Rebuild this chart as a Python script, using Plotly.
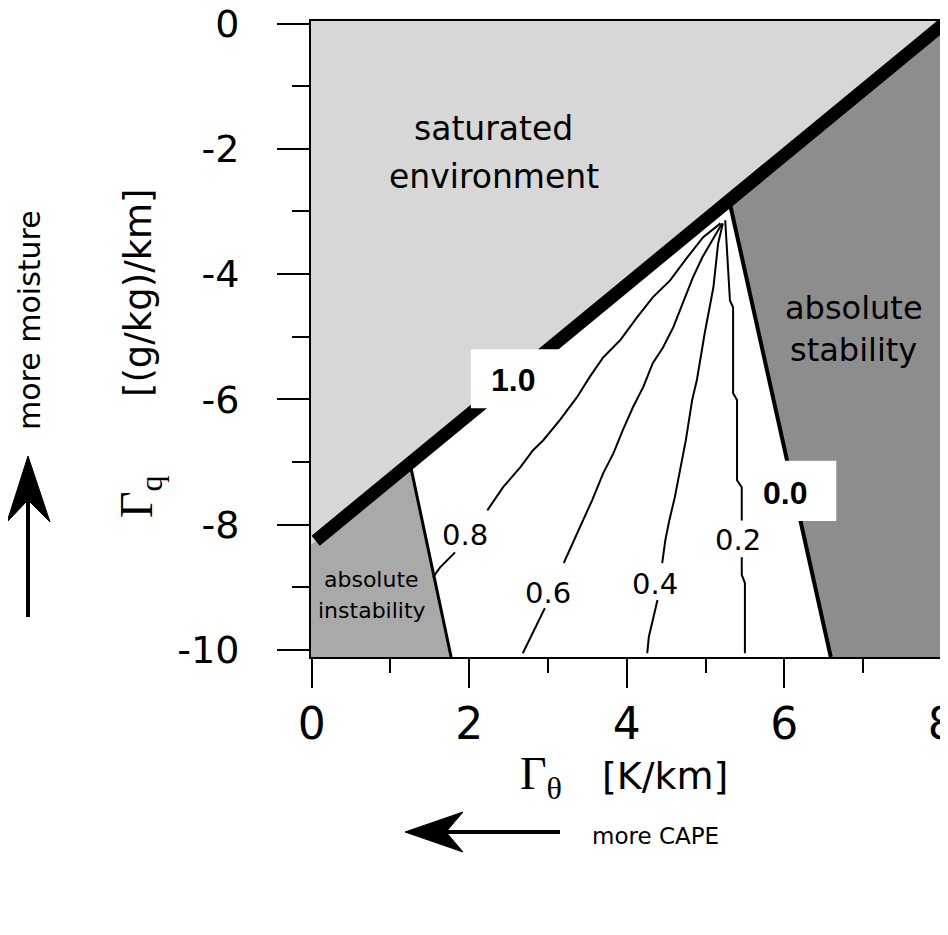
import plotly.graph_objects as go

# ---------------- data ----------------
X_TICKS = [0, 2, 4, 6, 8]
X_MINOR = [1, 3, 5, 7]
Y_TICKS = [-10, -8, -6, -4, -2, 0]
Y_TICKTEXT = ["-10", "-8", "-6", "-4", "-2", "0"]
Y_MINOR = [-9, -7, -5, -3, -1]

RANGE_X = [-0.009, 8.18]
RANGE_Y = [-10.11, 0.04]

# saturation line (thick black line, "1.0")
SAT_X = [-0.1, 0.05, 8.3]
SAT_Y = [-8.41, -8.255, 0.28]

# absolute stability boundary ("0.0")
STAB_X = [5.30, 6.59]
STAB_Y = [-2.82, -10.11]

# absolute instability boundary
INST_X = [1.255, 1.77]
INST_Y = [-7.06, -10.11]

# contour lines (None = gap for the label)
C02_X = [5.25, 5.31, 5.35, 5.35, 5.40, 5.40, 5.46, 5.46, None, 5.46, 5.46, 5.50, 5.50]
C02_Y = [-3.14, -4.42, -4.53, -5.90, -6.01, -7.29, -7.40, -7.93, None, -8.52, -8.80, -8.93, -10.05]

C04_X = [5.22, 5.16, 5.10, 4.99, 4.89, 4.83, 4.75, 4.68, 4.61, 4.54, 4.49, 4.45, None,
         4.39, 4.33, 4.28, 4.26]
C04_Y = [-3.19, -3.51, -4.21, -4.94, -5.69, -6.01, -6.65, -7.08, -7.56, -7.93, -8.24, -8.61, None,
         -9.20, -9.52, -9.79, -10.05]

C06_X = [5.21, 5.10, 4.96, 4.84, 4.72, 4.59, 4.46, 4.33, 4.21, 4.08, 3.95, 3.83, 3.70, 3.56,
         3.43, 3.32, 3.20, None, 2.96, 2.84, 2.68]
C06_Y = [-3.19, -3.43, -3.73, -4.05, -4.42, -4.85, -5.17, -5.42, -5.80, -6.12, -6.49, -6.86,
         -7.18, -7.61, -7.97, -8.29, -8.61, None, -9.33, -9.63, -10.05]

C08_X = [5.19, 4.97, 4.77, 4.55, 4.33, 4.13, 3.92, 3.70, 3.53, 3.37, 3.15, 2.94, 2.81, 2.65,
         2.43, 2.23, None, 1.82, 1.63, 1.54]
C08_Y = [-3.19, -3.41, -3.73, -4.10, -4.37, -4.69, -5.05, -5.33, -5.64, -5.96, -6.33, -6.65,
         -6.81, -7.08, -7.40, -7.77, None, -8.44, -8.68, -8.84]

CONTOUR_LABELS = ["0.8", "0.6", "0.4", "0.2"]
CONTOUR_LABEL_X = [1.95, 3.00, 4.36, 5.41]
CONTOUR_LABEL_Y = [-8.17, -9.09, -8.95, -8.24]

# ---------------- figure ----------------
W, H = 948, 935
OFF = 8                      # page body margin of the browser
ML, MR, MT, MB = 303, 0, 13, 286
PW, PH = W - ML - MR, H - MT - MB

def pxp(px):
    """page pixel x -> paper x"""
    return (px - OFF - ML) / PW

def pyp(py):
    """page pixel y -> paper y"""
    return (OFF + MT + PH - py) / PH

LIGHT = "#d7d7d7"
MID = "#a9a9a9"
DARK = "#8d8d8d"

fig = go.Figure()

x_lo, x_hi = SAT_X[0], SAT_X[-1]
# saturated environment (above the saturation line)
fig.add_trace(go.Scatter(
    x=[x_lo] + SAT_X + [x_hi],
    y=[1.0] + SAT_Y + [1.0],
    fill="toself", fillcolor=LIGHT, mode="lines", line=dict(width=0),
    hoverinfo="skip", showlegend=False))
# absolute stability
fig.add_trace(go.Scatter(
    x=STAB_X + [x_hi, x_hi],
    y=STAB_Y + [RANGE_Y[0] - 0.2, SAT_Y[-1]],
    fill="toself", fillcolor=DARK, mode="lines", line=dict(width=0),
    hoverinfo="skip", showlegend=False))
# absolute instability
fig.add_trace(go.Scatter(
    x=[x_lo] + INST_X + [x_lo],
    y=[SAT_Y[0]] + INST_Y + [RANGE_Y[0] - 0.2],
    fill="toself", fillcolor=MID, mode="lines", line=dict(width=0),
    hoverinfo="skip", showlegend=False))

for cx, cy in [(C02_X, C02_Y), (C04_X, C04_Y), (C06_X, C06_Y), (C08_X, C08_Y)]:
    fig.add_trace(go.Scatter(x=cx, y=cy, mode="lines", connectgaps=False,
                             line=dict(color="black", width=2),
                             hoverinfo="skip", showlegend=False))

fig.add_trace(go.Scatter(x=STAB_X, y=STAB_Y, mode="lines",
                         line=dict(color="black", width=4), hoverinfo="skip", showlegend=False))
fig.add_trace(go.Scatter(x=INST_X, y=INST_Y, mode="lines",
                         line=dict(color="black", width=3), hoverinfo="skip", showlegend=False))
fig.add_trace(go.Scatter(x=SAT_X[1:], y=SAT_Y[1:], mode="lines",
                         line=dict(color="black", width=13), hoverinfo="skip", showlegend=False))

# white label boxes
fig.add_shape(type="rect", xref="x", yref="y", x0=2.02, x1=3.20, y0=-6.14, y1=-5.20,
              fillcolor="white", line=dict(width=0), layer="above")
fig.add_shape(type="rect", xref="x", yref="y", x0=5.53, x1=6.66, y0=-7.94, y1=-6.98,
              fillcolor="white", line=dict(width=0), layer="above")

ann = []
def add_text(text, x, y, size, family="DejaVu Sans", xref="x", yref="y", angle=0, bold=False):
    ann.append(dict(text=text, x=x, y=y, xref=xref, yref=yref, showarrow=False,
                    textangle=angle, xanchor="center", yanchor="middle",
                    font=dict(family=family, size=size, color="black",
                              weight="bold" if bold else "normal")))

add_text("1.0", 2.56, -5.69, 32, family="Liberation Sans", bold=True)
add_text("0.0", 6.01, -7.49, 32, family="Liberation Sans", bold=True)

for t, x, y in zip(CONTOUR_LABELS, CONTOUR_LABEL_X, CONTOUR_LABEL_Y):
    add_text(t, x, y, 29)

add_text("saturated", 2.31, -1.67, 33)
add_text("environment", 2.31, -2.44, 33)
add_text("absolute", 6.88, -4.54, 32)
add_text("stability", 6.88, -5.21, 32)
add_text("absolute", 0.755, -8.88, 22)
add_text("instability", 0.77, -9.36, 22)

# axis titles
add_text("Γ<sub>θ</sub>", pxp(541), pyp(777), 46, family="Liberation Serif", xref="paper", yref="paper")
add_text("[K/km]", pxp(665), pyp(776), 38, xref="paper", yref="paper")
add_text("Γ<sub>q</sub>", pxp(140), pyp(497), 46, family="Liberation Serif",
         xref="paper", yref="paper", angle=-90)
add_text("[(g/kg)/km]", pxp(138), pyp(293), 37, xref="paper", yref="paper", angle=-90)

add_text("more moisture", pxp(30), pyp(320), 30, xref="paper", yref="paper", angle=-90)
add_text("more CAPE", pxp(655), pyp(836), 23, xref="paper", yref="paper")

def path(points, close=True):
    s = "M " + " L ".join(f"{pxp(a):.5f},{pyp(b):.5f}" for a, b in points)
    return s + (" Z" if close else "")

# up arrow
fig.add_shape(type="path", xref="paper", yref="paper",
              path=path([(28, 456), (50, 522), (28, 500), (7, 522)]),
              fillcolor="black", line=dict(color="black", width=1))
fig.add_shape(type="path", xref="paper", yref="paper",
              path=path([(28, 500), (28, 617)], close=False),
              line=dict(color="black", width=4))
# left arrow
fig.add_shape(type="path", xref="paper", yref="paper",
              path=path([(405, 832), (463, 812), (446, 832), (463, 852)]),
              fillcolor="black", line=dict(color="black", width=1))
fig.add_shape(type="path", xref="paper", yref="paper",
              path=path([(446, 832), (560, 832)], close=False),
              line=dict(color="black", width=4))

fig.update_layout(
    width=W, height=H,
    margin=dict(l=ML, r=MR, t=MT, b=MB, autoexpand=False),
    paper_bgcolor="white", plot_bgcolor="white",
    font=dict(family="DejaVu Sans", color="black"),
    showlegend=False,
    annotations=ann,
    xaxis=dict(range=RANGE_X, tickmode="array", tickvals=X_TICKS, ticktext=[str(v) for v in X_TICKS],
               ticks="outside", ticklen=29, tickwidth=2, tickcolor="black",
               showline=True, linewidth=2, linecolor="black", mirror=True,
               showgrid=False, zeroline=False, tickfont=dict(size=44, family="DejaVu Sans"),
               ticklabelstandoff=-2, automargin=False, ticklabeloverflow="allow",
               minor=dict(tickmode="array", tickvals=X_MINOR, ticks="outside", ticklen=14,
                          tickwidth=2, tickcolor="black", showgrid=False)),
    yaxis=dict(range=RANGE_Y, tickmode="array", tickvals=Y_TICKS, ticktext=Y_TICKTEXT,
               ticks="outside", ticklen=32, tickwidth=2, tickcolor="black",
               showline=True, linewidth=2, linecolor="black", mirror=False,
               showgrid=False, zeroline=False, tickfont=dict(size=38, family="DejaVu Sans"),
               ticklabelstandoff=30, automargin=False, ticklabeloverflow="allow",
               minor=dict(tickmode="array", tickvals=Y_MINOR, ticks="outside", ticklen=17,
                          tickwidth=2, tickcolor="black", showgrid=False)),
)

fig.write_html("out.html")
